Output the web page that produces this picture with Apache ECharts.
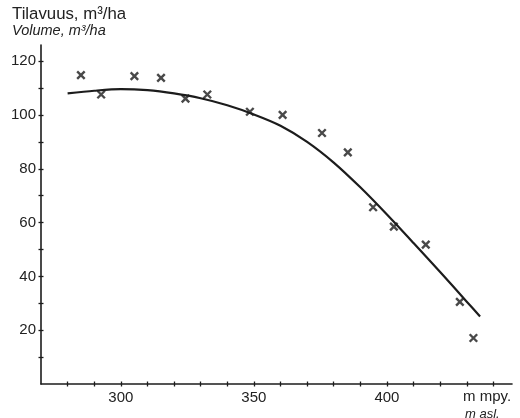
<!DOCTYPE html>
<html>
<head>
<meta charset="utf-8">
<script src="https://cdn.jsdelivr.net/npm/echarts@6/dist/echarts.min.js"></script>
<style>
  html, body { margin: 0; padding: 0; background: #fff; }
  #chart { width: 520px; height: 418px; }
</style>
</head>
<body>
<div id="chart"></div>
<script>
// Observed stand volume by elevation (m a.s.l., m³/ha)
const obsAltitude = [285, 292.6, 305.1, 315.1, 324.3, 332.5, 348.5, 360.8, 375.6, 385.3, 394.8, 402.6, 414.6, 427.4, 432.5];
const obsVolume   = [114.8, 107.6, 114.4, 113.8, 106.1, 107.6, 101.2, 100.0, 93.3, 86.1, 65.7, 58.5, 51.8, 30.5, 17.1];

// Fitted trend curve
const fitAltitude = [280, 290, 300, 310, 320, 330, 340, 350, 360, 370, 380, 390, 400, 410, 420, 430, 435];
const fitVolume   = [108.0, 109.0, 109.6, 109.2, 108.0, 106.2, 103.6, 100.2, 96.0, 90.0, 82.3, 73.1, 63.0, 52.4, 41.6, 30.6, 25.1];

// Axis ticks and labels
const xTicks  = [280, 290, 300, 310, 320, 330, 340, 350, 360, 370, 380, 390, 400, 410, 420, 430, 440];
const xLabels = [300, 350, 400];
const yTicks  = [10, 20, 30, 40, 50, 60, 70, 80, 90, 100, 110, 120];
const yLabels = [20, 40, 60, 80, 100, 120];

const ink = '#1c1c1c';
const textInk = '#222222';
const font = '"Liberation Sans", Arial, sans-serif';

const chart = echarts.init(document.getElementById('chart'), null, { renderer: 'canvas' });

// Ticks cross the axis line: one axis draws them outside, a twin draws them inside
function xAxisDef(inside, withLine) {
  return {
    type: 'value', position: 'bottom', min: 270, max: 447,
    axisLine: { show: withLine, onZero: false, lineStyle: { color: ink, width: 1.6 } },
    axisTick: { show: true, inside: inside, length: 2.5, customValues: xTicks, lineStyle: { color: ink, width: 1.3 } },
    axisLabel: withLine ? { show: true, customValues: xLabels, margin: 6, fontSize: 15, color: textInk, fontFamily: font } : { show: false },
    splitLine: { show: false }
  };
}
function yAxisDef(inside, withLine) {
  return {
    type: 'value', position: 'left', min: 0, max: 126,
    axisLine: { show: withLine, onZero: false, lineStyle: { color: ink, width: 1.6 } },
    axisTick: { show: true, inside: inside, length: 2.5, customValues: yTicks, lineStyle: { color: ink, width: 1.3 } },
    axisLabel: withLine ? { show: true, customValues: yLabels, margin: 5, fontSize: 15, color: textInk, fontFamily: font } : { show: false },
    splitLine: { show: false }
  };
}

chart.setOption({
  backgroundColor: '#ffffff',
  animation: false,
  grid: { left: 41, right: 8, top: 45, bottom: 34, containLabel: false },
  xAxis: [xAxisDef(false, true), xAxisDef(true, false)],
  yAxis: [yAxisDef(false, true), yAxisDef(true, false)],
  graphic: [
    { type: 'text', left: 12, top: 6, style: { text: 'Tilavuus, m³/ha', font: '16.8px ' + font, fill: textInk } },
    { type: 'text', left: 12, top: 23.5, style: { text: 'Volume, m³/ha', font: 'italic 14.5px ' + font, fill: textInk } },
    { type: 'text', left: 463, top: 389, style: { text: 'm mpy.', font: '15px ' + font, fill: textInk } },
    { type: 'text', left: 465, top: 407.5, style: { text: 'm asl.', font: 'italic 13px ' + font, fill: textInk } }
  ],
  series: [
    {
      type: 'line', xAxisIndex: 0, yAxisIndex: 0,
      data: fitAltitude.map((x, i) => [x, fitVolume[i]]),
      smooth: 0.3, showSymbol: false, symbol: 'none',
      lineStyle: { color: ink, width: 2.2 }
    },
    {
      type: 'scatter', xAxisIndex: 0, yAxisIndex: 0,
      data: obsAltitude.map((x, i) => [x, obsVolume[i]]),
      symbol: 'path://M0,0L10,10M10,0L0,10',
      symbolSize: 7.5,
      itemStyle: { color: 'none', borderColor: ink, borderWidth: 2.4 }
    }
  ]
});
</script>
</body>
</html>
